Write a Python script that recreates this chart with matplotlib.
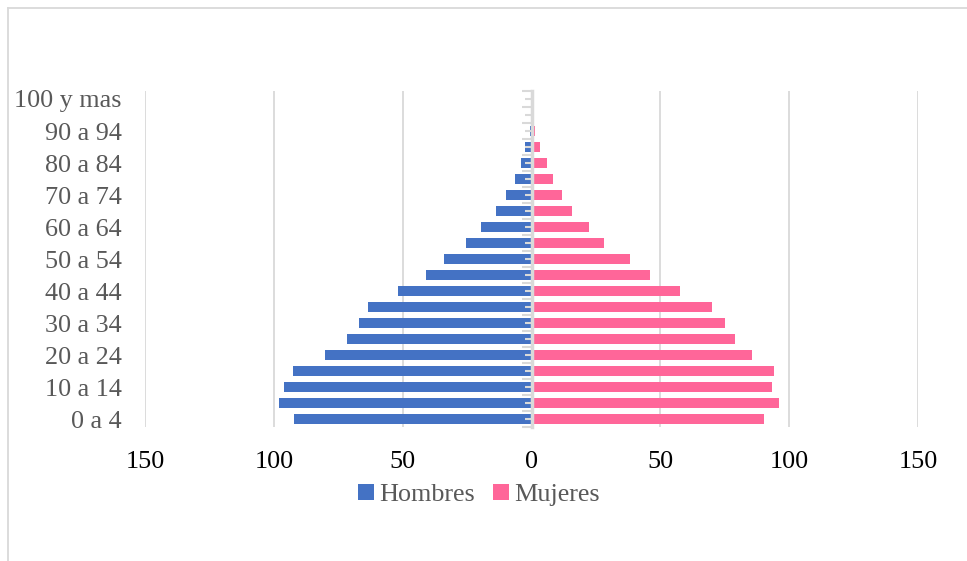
import matplotlib
matplotlib.use("Agg")
import matplotlib.pyplot as plt
from matplotlib.lines import Line2D
from matplotlib.ticker import FuncFormatter, NullFormatter
import numpy as np

ages = ["0 a 4", "5 a 9", "10 a 14", "15 a 19", "20 a 24", "25 a 29",
        "30 a 34", "35 a 39", "40 a 44", "45 a 49", "50 a 54", "55 a 59",
        "60 a 64", "65 a 69", "70 a 74", "75 a 79", "80 a 84", "85 a 89",
        "90 a 94", "95 a 99", "100 y mas"]
hombres = [92.0, 98.1, 96.1, 92.6, 80.0, 71.7, 67.0, 63.4, 51.9, 40.8, 33.8,
           25.5, 19.7, 13.6, 9.9, 6.4, 4.2, 2.4, 0.6, 0.2, 0.0]
mujeres = [90.2, 96.2, 93.4, 94.3, 85.7, 79.1, 75.1, 70.2, 57.6, 46.0, 38.3,
           28.1, 22.2, 15.6, 12.0, 8.2, 5.9, 3.3, 1.4, 0.8, 0.2]
x_ticks = [-150, -100, -50, 0, 50, 100, 150]

plt.rcParams.update({
    "font.family": "Liberation Serif",
    "font.size": 18.8,
})

BLUE = "#4472C4"
PINK = "#FF6699"
GRID = "#D9D9D9"
GREYTXT = "#595959"

fig = plt.figure(figsize=(9.67, 5.61), dpi=100)
ax = fig.add_axes([145 / 967, 134 / 561, 773 / 967, 336 / 561])

y = np.arange(len(ages))
ax.barh(y, -np.array(hombres), height=0.6, color=BLUE, label="Hombres", zorder=2)
ax.barh(y, mujeres, height=0.6, color=PINK, label="Mujeres", zorder=2)

ax.set_xlim(-150, 150)
ax.set_ylim(-0.5, len(ages) - 0.5)
ax.set_xticks(x_ticks)
ax.xaxis.set_major_formatter(FuncFormatter(lambda v, p: f"{abs(v):.0f}"))
ax.tick_params(axis="x", length=0, pad=17, labelsize=18.8, labelcolor="black")
ax.grid(axis="x", color=GRID, linewidth=1.3, zorder=0)
ax.set_axisbelow(True)

# category labels: every other one, as Excel shows them
ax.set_yticks(y[::2])
ax.set_yticklabels(ages[::2])
ax.tick_params(axis="y", length=0, pad=17, labelsize=18.8, labelcolor=GREYTXT)

for s in ax.spines.values():
    s.set_visible(False)

# vertical category axis sitting at zero
sec = ax.secondary_yaxis(0.5)
sec.set_yticks(np.arange(-0.5, len(ages), 1.0))
sec.set_yticks(y, minor=True)
sec.yaxis.set_major_formatter(NullFormatter())
sec.yaxis.set_minor_formatter(NullFormatter())
sec.yaxis.set_ticks_position("left")
sec.tick_params(which="major", direction="out", length=7, width=1.5, color=GRID,
                labelleft=False, labelright=False)
sec.tick_params(which="minor", direction="out", length=5, width=1.5, color=GRID,
                labelleft=False, labelright=False)
for s in sec.spines.values():
    s.set_color(GRID)
    s.set_linewidth(2.5)
sec.set_zorder(3)

leg = fig.legend(loc="center", bbox_to_anchor=(479 / 967, 1 - 495 / 561),
                 ncol=2, frameon=False, fontsize=18.8, handlelength=0.6,
                 handleheight=0.6, handletextpad=0.2, columnspacing=0.7)
for t in leg.get_texts():
    t.set_color(GREYTXT)

# chart-area frame (only top and left edges visible in the reference)
fig.add_artist(Line2D([8 / 967, 1], [1 - 7.5 / 561, 1 - 7.5 / 561],
                      transform=fig.transFigure, color=GRID, linewidth=1.3))
fig.add_artist(Line2D([8 / 967, 8 / 967], [0, 1 - 7.5 / 561],
                      transform=fig.transFigure, color=GRID, linewidth=1.3))

fig.savefig("out.png", dpi=100)
